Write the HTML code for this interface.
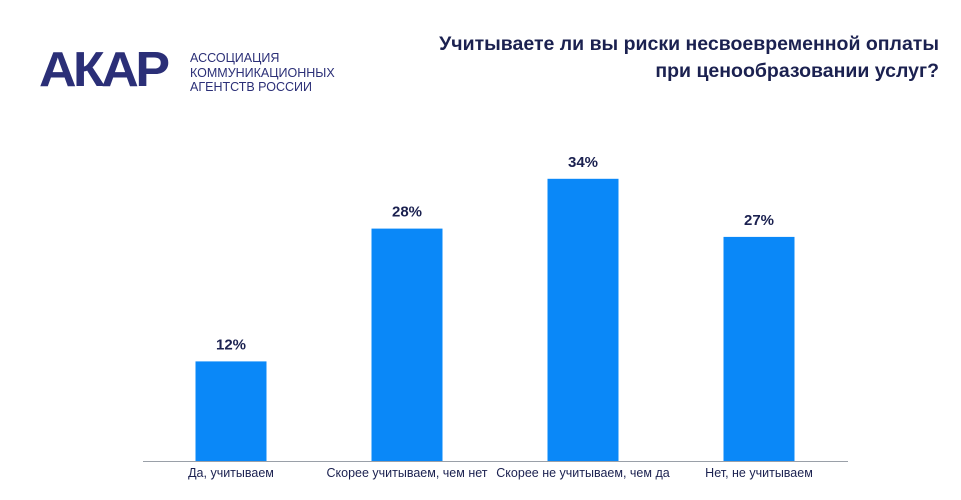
<!DOCTYPE html>
<html><head><meta charset="utf-8"><style>
body{margin:0;width:961px;height:500px;background:#fff;overflow:hidden;font-family:"Liberation Sans",sans-serif;position:relative}
.logo{position:absolute;left:39px;top:45px;font-size:52px;font-weight:900;color:#2b2f77;letter-spacing:-3.5px;line-height:52px;transform:scaleY(0.95);transform-origin:top left}
.sub{position:absolute;left:190px;top:51px;font-size:12.5px;line-height:14.5px;color:#2b2f77}
.title{position:absolute;right:22px;top:31px;text-align:right;font-size:19.5px;font-weight:bold;line-height:27px;color:#1b2150}
</style></head><body>
<div class="logo">АКАР</div>
<div class="sub">АССОЦИАЦИЯ<br>КОММУНИКАЦИОННЫХ<br>АГЕНТСТВ РОССИИ</div>
<div class="title">Учитываете ли вы риски несвоевременной оплаты<br>при ценообразовании услуг?</div>
<svg id="c" width="961" height="500" style="position:absolute;left:0;top:0"></svg>
<script>
const categories=["Да, учитываем","Скорее учитываем, чем нет","Скорее не учитываем, чем да","Нет, не учитываем"];
const values=[12,28,34,27];
const valueLabels=["12%","28%","34%","27%"];
const svg=document.getElementById('c');const NS='http://www.w3.org/2000/svg';
const base=461,pxPer=8.3,x0=231,step=176,bw=71;
const y=v=>base-v*pxPer;const x=i=>x0+i*step;
function mk(t,a){const e=document.createElementNS(NS,t);for(const k in a)e.setAttribute(k,a[k]);svg.appendChild(e);return e;}
values.forEach((v,i)=>{
 const r=mk('rect',{x:x(i)-bw/2,y:y(v),width:bw,height:base-y(v),fill:'#0a88f8'});
 
 
 const t=mk('text',{x:x(i),y:y(v)-12,'text-anchor':'middle','font-size':'15','font-weight':'bold',fill:'#1b2150','font-family':'Liberation Sans'});
 t.textContent=valueLabels[i];
 
 
 const c=mk('text',{x:x(i),y:477,'text-anchor':'middle','font-size':'12.5',fill:'#1b2150','font-family':'Liberation Sans'});
 c.textContent=categories[i];
 
 
});
const ax=mk('line',{x1:143,x2:848,y1:base+0.5,y2:base+0.5,stroke:'#9aa0a8','stroke-width':1});


</script>
</body></html>
